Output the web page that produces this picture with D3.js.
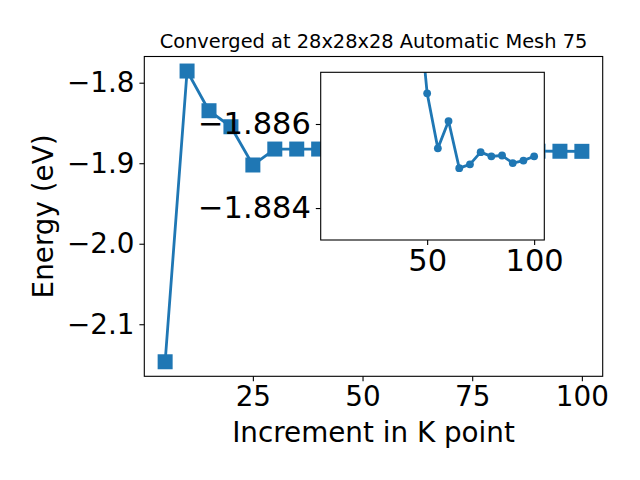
<!DOCTYPE html>
<html>
<head>
<meta charset="utf-8">
<script src="https://cdn.jsdelivr.net/npm/d3@7"></script>
<style>
  body { margin: 0; background: #fff; }
  svg { display: block; font-family: "DejaVu Sans", sans-serif; }
</style>
</head>
<body>
<svg id="chart" width="640" height="480"></svg>
<script>
// ---- data ----
const kPoints = [5, 10, 15, 20, 25, 30, 35, 40, 45, 50, 55, 60, 65, 70, 75, 80, 85, 90, 95, 100];
const energy = [-2.1466, -1.7855, -1.8348, -1.8547, -1.9022, -1.8824, -1.8824, -1.8824, -1.8894,
                -1.88673, -1.88542, -1.88607, -1.88495, -1.88504, -1.88533, -1.88523, -1.88525,
                -1.88507, -1.88513, -1.88523];
const insetStartK = 45;
const mainXTicks = [25, 50, 75, 100];
const mainYTicks = [-2.1, -2.0, -1.9, -1.8];
const insetXTicks = [50, 100];
const insetYTicks = [-1.886, -1.884];
const insetYLim = [-1.88723, -1.88324]; // top, bottom (inverted)
const titleText = "Converged at 28x28x28 Automatic Mesh 75";
const xLabel = "Increment in K point";
const yLabel = "Energy (eV)";

// ---- layout ----
const color = "#1f77b4";
const svg = d3.select("#chart");
const M = { left: 144.3, right: 602.7, top: 56.5, bottom: 376.3 };
const I = { left: 320.7, right: 544.3, top: 72.3, bottom: 240 };
const fmt1 = v => d3.format(".1f")(v).replace("-", "\u2212");
const fmt3 = v => d3.format(".3f")(v).replace("-", "\u2212");

const data = kPoints.map((k, i) => ({ k, e: energy[i] }));
const xExt = d3.extent(kPoints), yExt = d3.extent(energy);
const xm = (xExt[1] - xExt[0]) * 0.05, ym = (yExt[1] - yExt[0]) * 0.05;

const x = d3.scaleLinear().domain([xExt[0] - xm, xExt[1] + xm]).range([M.left, M.right]);
const y = d3.scaleLinear().domain([yExt[0] - ym, yExt[1] + ym]).range([M.bottom, M.top]);

// main line and markers
const line = d3.line().x(d => x(d.k)).y(d => y(d.e));
svg.append("path").datum(data).attr("d", line)
  .attr("fill", "none").attr("stroke", color).attr("stroke-width", 2.8).attr("stroke-linejoin", "round");
const sq = 15;
svg.append("g").selectAll("rect").data(data).join("rect")
  .attr("x", d => x(d.k) - sq / 2).attr("y", d => y(d.e) - sq / 2)
  .attr("width", sq).attr("height", sq).attr("fill", color);

// main spines
svg.append("rect").attr("x", M.left).attr("y", M.top)
  .attr("width", M.right - M.left).attr("height", M.bottom - M.top)
  .attr("fill", "none").attr("stroke", "#000").attr("stroke-width", 1.1);

// main axes
const fs = "27.8px";
const fsInset = "30.5px";
const xAxis = d3.axisBottom(x).tickValues(mainXTicks).tickSize(4.9).tickPadding(4.9).tickFormat(d3.format("d"));
const gx = svg.append("g").attr("transform", `translate(0,${M.bottom})`).call(xAxis);
const yAxis = d3.axisLeft(y).tickValues(mainYTicks).tickSize(4.9).tickPadding(4.9).tickFormat(fmt1);
const gy = svg.append("g").attr("transform", `translate(${M.left},0)`).call(yAxis);
[gx, gy].forEach(g => {
  g.select(".domain").remove();
  g.selectAll(".tick line").attr("stroke", "#000").attr("stroke-width", 1.1);
  g.selectAll(".tick text").attr("fill", "#000").style("font-size", fs).style("font-family", "DejaVu Sans");
});

// labels
svg.append("text").attr("x", (M.left + M.right) / 2).attr("y", 47.5)
  .attr("text-anchor", "middle").style("font-size", "19.4px").text(titleText);
svg.append("text").attr("x", (M.left + M.right) / 2).attr("y", 442)
  .attr("text-anchor", "middle").style("font-size", fs).text(xLabel);
svg.append("text").attr("transform", `translate(53,${(M.top + M.bottom) / 2}) rotate(-90)`)
  .attr("text-anchor", "middle").style("font-size", fs).text(yLabel);

// ---- inset ----
const insetData = data.filter(d => d.k >= insetStartK);
const xi = d3.scaleLinear().domain(x.domain()).range([I.left, I.right]);
const yi = d3.scaleLinear().domain(insetYLim).range([I.top, I.bottom]);

svg.append("rect").attr("x", I.left).attr("y", I.top)
  .attr("width", I.right - I.left).attr("height", I.bottom - I.top).attr("fill", "#fff");
svg.append("clipPath").attr("id", "insetClip").append("rect")
  .attr("x", I.left).attr("y", I.top).attr("width", I.right - I.left).attr("height", I.bottom - I.top);
const gi = svg.append("g").attr("clip-path", "url(#insetClip)");
gi.append("path").datum(insetData)
  .attr("d", d3.line().x(d => xi(d.k)).y(d => yi(d.e)))
  .attr("fill", "none").attr("stroke", color).attr("stroke-width", 2.8).attr("stroke-linejoin", "round");
gi.selectAll("circle").data(insetData).join("circle")
  .attr("cx", d => xi(d.k)).attr("cy", d => yi(d.e)).attr("r", 3.9).attr("fill", color);

svg.append("rect").attr("x", I.left).attr("y", I.top)
  .attr("width", I.right - I.left).attr("height", I.bottom - I.top)
  .attr("fill", "none").attr("stroke", "#000").attr("stroke-width", 1.1);

const gxi = svg.append("g").attr("transform", `translate(0,${I.bottom})`)
  .call(d3.axisBottom(xi).tickValues(insetXTicks).tickSize(4.9).tickPadding(4.9).tickFormat(d3.format("d")));
const gyi = svg.append("g").attr("transform", `translate(${I.left},0)`)
  .call(d3.axisLeft(yi).tickValues(insetYTicks).tickSize(4.9).tickPadding(4.9).tickFormat(fmt3));
[gxi, gyi].forEach(g => {
  g.select(".domain").remove();
  g.selectAll(".tick line").attr("stroke", "#000").attr("stroke-width", 1.1);
  g.selectAll(".tick text").attr("fill", "#000").style("font-size", fsInset).style("font-family", "DejaVu Sans");
});
</script>
</body>
</html>
